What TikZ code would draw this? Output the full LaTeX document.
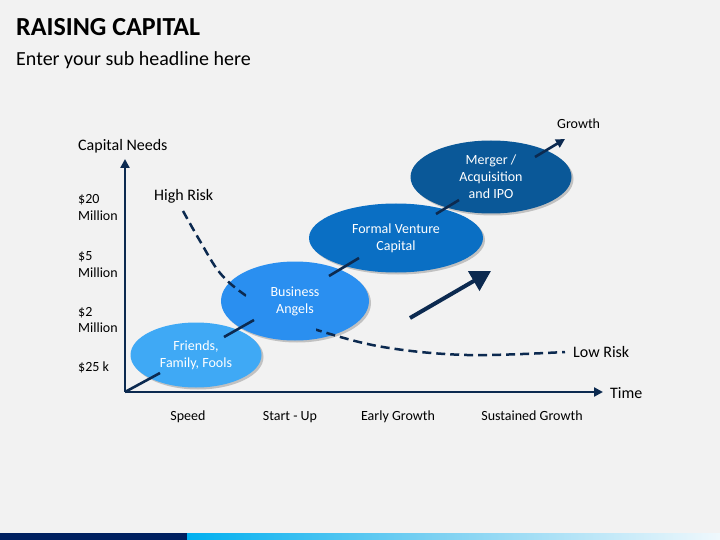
\documentclass[tikz,border=0pt]{standalone}
\usepackage{fontspec}
\setmainfont{Carlito}
\usetikzlibrary{arrows.meta,shapes.geometric,shadows}
\definecolor{bg}{HTML}{F2F2F2}
\definecolor{navy}{HTML}{0C2A50}
\definecolor{barnavy}{HTML}{002060}
\definecolor{eA}{HTML}{3FA9F5}
\definecolor{eB}{HTML}{2A8FF0}
\definecolor{eC}{HTML}{0A6FC4}
\definecolor{eD}{HTML}{0A5898}
\definecolor{gA}{HTML}{0070C0}
\definecolor{gB}{HTML}{00B0F0}
\definecolor{gC}{HTML}{80D2F2}
\definecolor{gD}{HTML}{F8FBFD}
\definecolor{gE}{HTML}{1E90E0}
\pgfdeclarehorizontalshading{barshade}{100bp}{color(0bp)=(gA); color(25bp)=(gB); color(49bp)=(gC); color(77bp)=(gD); color(100bp)=(gE)}
\tikzset{
  lbl/.style={font=\fontsize{14}{17}\selectfont, text=black, inner sep=0pt},
  biglbl/.style={lbl, font=\fontsize{16}{17}\selectfont},
  stage/.style={ellipse, inner sep=0pt, text=white, align=center,
    font=\fontsize{14}{17}\selectfont,
    drop shadow={shadow xshift=2pt, shadow yshift=-2pt, opacity=0.35, fill=black!60}},
  axisline/.style={draw=navy, line width=2.6pt, -{Triangle[length=9pt,width=9pt]}},
  conn/.style={draw=navy, line width=2.6pt},
  riskline/.style={draw=navy, line width=2.5pt, dash pattern=on 9pt off 5pt}
}
\begin{document}
\begin{tikzpicture}[x=1pt,y=-1pt]
\useasboundingbox (0,0) rectangle (720,540);
\fill[bg] (0,0) rectangle (720,540);
% bottom bar
\fill[barnavy] (0,533) rectangle (187,540);
\shade[shading=barshade] (187,533) rectangle (720,540);
% titles
\node[anchor=base west, inner sep=0pt, font=\fontsize{26}{30}\selectfont\bfseries] (title) at (16,36) {RAISING CAPITAL};
\node[anchor=base west, inner sep=0pt, font=\fontsize{20}{24}\selectfont] (sub) at (16,66) {Enter your sub headline here};
% axes
\coordinate (O) at (125,392);
\coordinate (ytip) at (125,159);
\coordinate (xtip) at (603,392);
\draw[axisline] (O) -- (ytip);
\draw[axisline] (O) -- (xtip);
% axis labels
\node[biglbl, anchor=base west] (cap) at (78,151) {Capital Needs};
\node[lbl, anchor=base west] (m20a) at (78,204) {\$20};
\node[lbl, anchor=base west] (m20b) at (78,221) {Million};
\node[lbl, anchor=base west] (m5a) at (78,260) {\$5};
\node[lbl, anchor=base west] (m5b) at (78,277) {Million};
\node[lbl, anchor=base west] (m2a) at (78,316) {\$2};
\node[lbl, anchor=base west] (m2b) at (78,332) {Million};
\node[lbl, anchor=base west] (k25) at (78,371) {\$25 k};
\node[biglbl, anchor=base west] (high) at (154,201) {High Risk};
\node[biglbl, anchor=base west] (low) at (573,357) {Low Risk};
\node[biglbl, anchor=base west] (time) at (610,398) {Time};
\node[lbl, anchor=base west] (growth) at (557,129) {Growth};
\node[lbl, anchor=base] (speed) at (188,420) {Speed};
\node[lbl, anchor=base] (start) at (290,420) {Start - Up};
\node[lbl, anchor=base] (early) at (398,420) {Early Growth};
\node[lbl, anchor=base] (sust) at (532,420) {Sustained Growth};
% stages
\node[stage, fill=eA, minimum width=131pt, minimum height=65pt] (ffs) at (196,355) {Friends,\\Family, Fools};
\node[stage, fill=eB, minimum width=148pt, minimum height=79pt] (ba) at (295,301) {Business\\Angels};
\node[stage, fill=eC, minimum width=174pt, minimum height=69pt] (fvc) at (396,238) {Formal Venture\\Capital};
\node[stage, fill=eD, minimum width=161pt, minimum height=73pt] (ma) at (491,177) {Merger /\\Acquisition\\and IPO};
% risk curve
\begin{scope}[even odd rule]
\clip (0,0) rectangle (720,540) (246,280) rectangle (316,345);
\draw[riskline] plot[smooth, tension=0.6] coordinates {(183,211) (200,241) (220,273) (245,295) (280,316) (317,330) (383,347) (467,355) (565,352)};
\end{scope}
% connectors
\coordinate (c1) at (160,373);
\coordinate (c2a) at (224,337); \coordinate (c2b) at (254,320);
\coordinate (c3a) at (329,276); \coordinate (c3b) at (359,258);
\coordinate (c4a) at (436,214); \coordinate (c4b) at (459,200);
\coordinate (c5a) at (535,157); \coordinate (c5b) at (565,139);
\draw[conn] (O) -- (c1);
\draw[conn] (c2a) -- (c2b);
\draw[conn] (c3a) -- (c3b);
\draw[conn] (c4a) -- (c4b);
\draw[conn, -{Triangle[length=9pt,width=9pt]}] (c5a) -- (c5b);
% big arrow
\coordinate (ba1) at (410,318);
\coordinate (ba2) at (491,271);
\draw[draw=navy, line width=4pt, -{Triangle[length=20pt,width=22pt]}] (ba1) -- (ba2);
\end{tikzpicture}
\end{document}
